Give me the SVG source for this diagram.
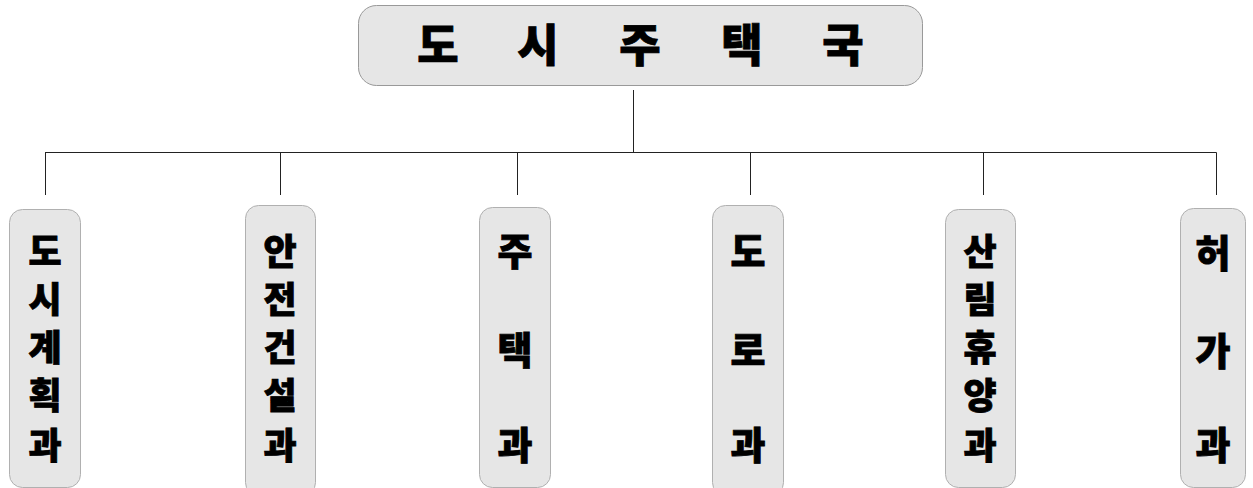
<svg xmlns="http://www.w3.org/2000/svg" width="1253" height="488" viewBox="0 0 1253 488">
<style>
.box{fill:#e6e6e6;stroke:#b0b0b0;stroke-width:1}
.top{fill:#e6e6e6;stroke:#999;stroke-width:1}
.t{font-family:"Noto Sans CJK KR","Noto Sans CJK SC",sans-serif;font-weight:900;fill:#000;stroke:#000;stroke-width:0.8;text-anchor:middle}
.title{font-size:45px}
.v5{font-size:36px}
.v3{font-size:38px}
.ln{stroke:#222;stroke-width:1;fill:none}
</style>
<g id="connectors">
<path class="ln" d="M633.5 90V152.5M45 152.5H1216.5M45.5 152.5V195M280.5 152.5V195M517.5 152.5V195M750.5 152.5V195M983.5 152.5V195M1216.5 152.5V195"/>
</g>
<g id="n0"><rect class="top" x="358.5" y="5.5" width="564" height="80" rx="18"/>
<text class="t title" x="438 538 640 742 843" y="62">도시주택국</text></g>
<g id="n1"><rect class="box" x="9.5" y="209.5" width="71" height="278" rx="13"/>
<text class="t v5" x="45" y="265">도</text><text class="t v5" x="45" y="313">시</text><text class="t v5" x="45" y="361">계</text><text class="t v5" x="45" y="409">획</text><text class="t v5" x="45" y="459">과</text></g>
<g id="n2"><rect class="box" x="245.5" y="205.5" width="70" height="290" rx="13"/>
<text class="t v5" x="280" y="265">안</text><text class="t v5" x="280" y="313">전</text><text class="t v5" x="280" y="361">건</text><text class="t v5" x="280" y="409">설</text><text class="t v5" x="280" y="459">과</text></g>
<g id="n3"><rect class="box" x="479.5" y="207.5" width="71" height="280" rx="13"/>
<text class="t v3" x="515" y="265">주</text><text class="t v3" x="515" y="364">택</text><text class="t v3" x="515" y="459">과</text></g>
<g id="n4"><rect class="box" x="712.5" y="205.5" width="71" height="290" rx="13"/>
<text class="t v3" x="748" y="265">도</text><text class="t v3" x="748" y="364">로</text><text class="t v3" x="748" y="459">과</text></g>
<g id="n5"><rect class="box" x="945.5" y="209.5" width="70" height="278" rx="13"/>
<text class="t v5" x="980" y="265">산</text><text class="t v5" x="980" y="313">림</text><text class="t v5" x="980" y="361">휴</text><text class="t v5" x="980" y="409">양</text><text class="t v5" x="980" y="459">과</text></g>
<g id="n6"><rect class="box" x="1180.5" y="208.5" width="65" height="279" rx="13"/>
<text class="t v3" x="1213" y="267">허</text><text class="t v3" x="1213" y="365">가</text><text class="t v3" x="1213" y="459">과</text></g>
</svg>
